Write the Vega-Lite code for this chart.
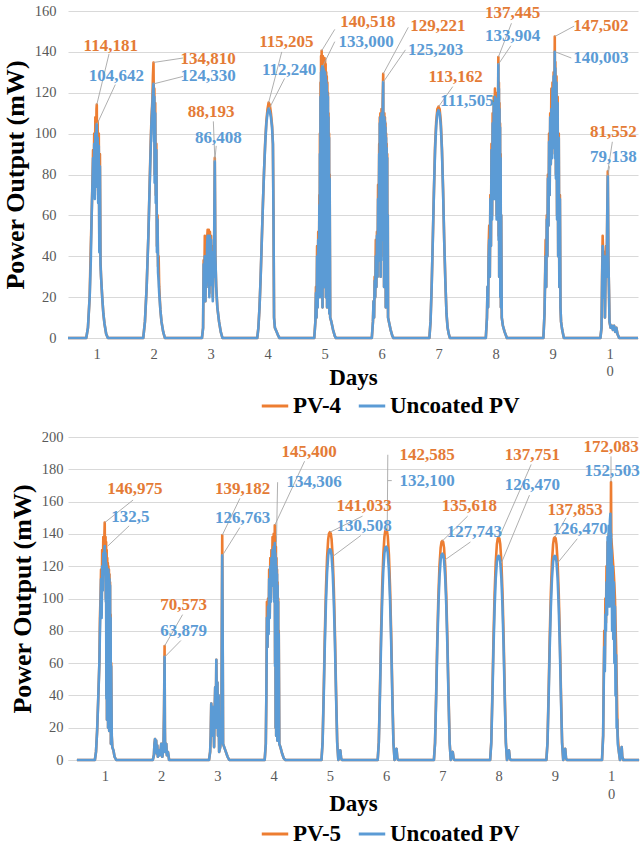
{
  "$schema": "https://vega.github.io/schema/vega-lite/v6.json",
  "padding": {"left": 2, "top": 3, "right": 4, "bottom": 4},
  "background": "white",
  "datasets": {
    "pv4": [
      {"day":0.5,"pv":0,"unc":0},
      {"day":0.82,"pv":0,"unc":0},{"day":0.85,"pv":5,"unc":5},{"day":0.88,"pv":20,"unc":20},{"day":0.90,"pv":45,"unc":38},
      {"day":0.915,"pv":60,"unc":60},{"day":0.93,"pv":78,"unc":76},{"day":0.94,"pv":92,"unc":88},{"day":0.95,"pv":75,"unc":70},
      {"day":0.96,"pv":100,"unc":95},{"day":0.97,"pv":72,"unc":68},{"day":0.98,"pv":108,"unc":100},{"day":0.99,"pv":80,"unc":74},
      {"day":1.00,"pv":112,"unc":102},{"day":1.005,"pv":114.181,"unc":104.642},{"day":1.01,"pv":85,"unc":78},{"day":1.02,"pv":106,"unc":98},
      {"day":1.03,"pv":70,"unc":66},{"day":1.04,"pv":100,"unc":94},{"day":1.05,"pv":45,"unc":42},{"day":1.06,"pv":90,"unc":84},
      {"day":1.07,"pv":38,"unc":36},{"day":1.08,"pv":30,"unc":30},{"day":1.10,"pv":20,"unc":20},{"day":1.12,"pv":12,"unc":12},
      {"day":1.14,"pv":7,"unc":7},{"day":1.17,"pv":2,"unc":2},{"day":1.20,"pv":0,"unc":0},

      {"day":1.82,"pv":0,"unc":0},{"day":1.85,"pv":8,"unc":8},{"day":1.88,"pv":25,"unc":25},{"day":1.91,"pv":50,"unc":50},
      {"day":1.93,"pv":72,"unc":72},{"day":1.95,"pv":95,"unc":92},{"day":1.965,"pv":108,"unc":106},{"day":1.98,"pv":116,"unc":114},
      {"day":1.99,"pv":128,"unc":120},{"day":2.00,"pv":134.81,"unc":124.33},{"day":2.01,"pv":100,"unc":96},{"day":2.015,"pv":122,"unc":118},
      {"day":2.02,"pv":80,"unc":76},{"day":2.03,"pv":115,"unc":110},{"day":2.04,"pv":70,"unc":66},{"day":2.05,"pv":95,"unc":92},
      {"day":2.06,"pv":45,"unc":42},{"day":2.07,"pv":60,"unc":58},{"day":2.08,"pv":35,"unc":32},{"day":2.09,"pv":40,"unc":28},
      {"day":2.10,"pv":25,"unc":22},{"day":2.12,"pv":14,"unc":14},{"day":2.14,"pv":8,"unc":8},{"day":2.17,"pv":3,"unc":3},{"day":2.20,"pv":0,"unc":0},

      {"day":2.85,"pv":0,"unc":0},{"day":2.87,"pv":5,"unc":5},{"day":2.88,"pv":38,"unc":36},{"day":2.89,"pv":22,"unc":22},
      {"day":2.90,"pv":50,"unc":40},{"day":2.91,"pv":18,"unc":18},{"day":2.92,"pv":35,"unc":33},{"day":2.93,"pv":25,"unc":25},
      {"day":2.94,"pv":48,"unc":45},{"day":2.95,"pv":53,"unc":50},{"day":2.96,"pv":30,"unc":28},{"day":2.97,"pv":53,"unc":50},
      {"day":2.98,"pv":22,"unc":20},{"day":2.99,"pv":52,"unc":50},{"day":3.00,"pv":35,"unc":33},{"day":3.01,"pv":50,"unc":48},
      {"day":3.02,"pv":28,"unc":26},{"day":3.03,"pv":45,"unc":42},{"day":3.04,"pv":20,"unc":18},{"day":3.05,"pv":40,"unc":38},
      {"day":3.06,"pv":30,"unc":30},{"day":3.075,"pv":88.193,"unc":86.408},{"day":3.085,"pv":40,"unc":40},{"day":3.10,"pv":25,"unc":25},
      {"day":3.12,"pv":15,"unc":15},{"day":3.15,"pv":8,"unc":8},{"day":3.18,"pv":3,"unc":3},{"day":3.21,"pv":0,"unc":0},

      {"day":3.82,"pv":0,"unc":0},{"day":3.84,"pv":5,"unc":5},{"day":3.86,"pv":15,"unc":15},{"day":3.88,"pv":30,"unc":30},
      {"day":3.90,"pv":48,"unc":48},{"day":3.92,"pv":66,"unc":66},{"day":3.94,"pv":82,"unc":82},{"day":3.96,"pv":96,"unc":95},
      {"day":3.98,"pv":106,"unc":105},{"day":4.00,"pv":112,"unc":110},{"day":4.02,"pv":115.205,"unc":112.24},{"day":4.04,"pv":114,"unc":111},
      {"day":4.06,"pv":110,"unc":108},{"day":4.08,"pv":104,"unc":103},{"day":4.095,"pv":95,"unc":95},{"day":4.105,"pv":60,"unc":60},
      {"day":4.115,"pv":10,"unc":10},{"day":4.13,"pv":5,"unc":5},{"day":4.16,"pv":3,"unc":3},{"day":4.19,"pv":1,"unc":1},{"day":4.21,"pv":0,"unc":0},

      {"day":4.82,"pv":0,"unc":0},{"day":4.84,"pv":8,"unc":8},{"day":4.85,"pv":25,"unc":22},{"day":4.86,"pv":10,"unc":10},
      {"day":4.87,"pv":45,"unc":40},{"day":4.88,"pv":15,"unc":15},{"day":4.89,"pv":52,"unc":48},{"day":4.90,"pv":20,"unc":20},
      {"day":4.91,"pv":70,"unc":65},{"day":4.915,"pv":25,"unc":25},{"day":4.92,"pv":100,"unc":90},{"day":4.925,"pv":30,"unc":30},
      {"day":4.93,"pv":125,"unc":118},{"day":4.935,"pv":40,"unc":38},{"day":4.94,"pv":138,"unc":130},{"day":4.945,"pv":20,"unc":20},
      {"day":4.95,"pv":140.518,"unc":132},{"day":4.955,"pv":60,"unc":58},{"day":4.96,"pv":137,"unc":133},{"day":4.965,"pv":15,"unc":15},
      {"day":4.97,"pv":138,"unc":133},{"day":4.975,"pv":50,"unc":48},{"day":4.98,"pv":137,"unc":132},{"day":4.985,"pv":30,"unc":28},
      {"day":4.99,"pv":136,"unc":131},{"day":4.995,"pv":70,"unc":65},{"day":5.00,"pv":137,"unc":130},{"day":5.005,"pv":25,"unc":25},
      {"day":5.01,"pv":136,"unc":130},{"day":5.015,"pv":45,"unc":42},{"day":5.02,"pv":134,"unc":128},{"day":5.025,"pv":20,"unc":20},
      {"day":5.03,"pv":130,"unc":126},{"day":5.035,"pv":60,"unc":58},{"day":5.04,"pv":128,"unc":124},{"day":5.045,"pv":15,"unc":15},
      {"day":5.05,"pv":125,"unc":120},{"day":5.055,"pv":40,"unc":38},{"day":5.06,"pv":120,"unc":118},{"day":5.065,"pv":20,"unc":20},
      {"day":5.07,"pv":110,"unc":108},{"day":5.075,"pv":30,"unc":30},{"day":5.08,"pv":100,"unc":98},{"day":5.085,"pv":12,"unc":12},
      {"day":5.09,"pv":80,"unc":78},{"day":5.10,"pv":10,"unc":10},{"day":5.12,"pv":8,"unc":8},{"day":5.15,"pv":4,"unc":4},
      {"day":5.18,"pv":1,"unc":1},{"day":5.20,"pv":0,"unc":0},

      {"day":5.83,"pv":0,"unc":0},{"day":5.85,"pv":8,"unc":8},{"day":5.86,"pv":18,"unc":18},{"day":5.87,"pv":10,"unc":10},
      {"day":5.88,"pv":30,"unc":28},{"day":5.89,"pv":20,"unc":20},{"day":5.90,"pv":48,"unc":40},{"day":5.91,"pv":25,"unc":25},
      {"day":5.92,"pv":52,"unc":50},{"day":5.93,"pv":30,"unc":30},{"day":5.94,"pv":75,"unc":68},{"day":5.95,"pv":55,"unc":55},
      {"day":5.96,"pv":95,"unc":90},{"day":5.965,"pv":40,"unc":38},{"day":5.97,"pv":108,"unc":105},{"day":5.975,"pv":60,"unc":58},
      {"day":5.98,"pv":110,"unc":108},{"day":5.985,"pv":30,"unc":30},{"day":5.99,"pv":110,"unc":108},{"day":5.995,"pv":50,"unc":48},
      {"day":6.00,"pv":112,"unc":110},{"day":6.01,"pv":70,"unc":68},{"day":6.02,"pv":115,"unc":110},{"day":6.03,"pv":129.221,"unc":125.203},
      {"day":6.035,"pv":40,"unc":38},{"day":6.04,"pv":110,"unc":108},{"day":6.045,"pv":25,"unc":25},{"day":6.05,"pv":110,"unc":108},
      {"day":6.055,"pv":60,"unc":58},{"day":6.06,"pv":108,"unc":106},{"day":6.065,"pv":30,"unc":30},{"day":6.07,"pv":105,"unc":103},
      {"day":6.075,"pv":15,"unc":15},{"day":6.08,"pv":100,"unc":98},{"day":6.085,"pv":40,"unc":40},{"day":6.09,"pv":95,"unc":93},
      {"day":6.095,"pv":20,"unc":20},{"day":6.10,"pv":90,"unc":88},{"day":6.105,"pv":15,"unc":15},{"day":6.11,"pv":60,"unc":60},
      {"day":6.115,"pv":10,"unc":10},{"day":6.13,"pv":8,"unc":8},{"day":6.16,"pv":4,"unc":4},{"day":6.19,"pv":1,"unc":1},{"day":6.21,"pv":0,"unc":0},

      {"day":6.84,"pv":0,"unc":0},{"day":6.86,"pv":8,"unc":8},{"day":6.88,"pv":25,"unc":25},{"day":6.90,"pv":48,"unc":48},
      {"day":6.92,"pv":72,"unc":72},{"day":6.94,"pv":94,"unc":92},{"day":6.96,"pv":106,"unc":104},{"day":6.98,"pv":112,"unc":110},
      {"day":7.00,"pv":113.162,"unc":111.505},{"day":7.02,"pv":112,"unc":110},{"day":7.04,"pv":106,"unc":104},{"day":7.06,"pv":93,"unc":92},
      {"day":7.08,"pv":73,"unc":72},{"day":7.10,"pv":48,"unc":48},{"day":7.12,"pv":28,"unc":28},{"day":7.14,"pv":12,"unc":12},
      {"day":7.16,"pv":5,"unc":5},{"day":7.18,"pv":2,"unc":2},{"day":7.20,"pv":0,"unc":0},

      {"day":7.83,"pv":0,"unc":0},{"day":7.85,"pv":10,"unc":10},{"day":7.86,"pv":25,"unc":25},{"day":7.87,"pv":15,"unc":15},
      {"day":7.88,"pv":45,"unc":40},{"day":7.89,"pv":55,"unc":48},{"day":7.90,"pv":30,"unc":30},{"day":7.91,"pv":70,"unc":68},
      {"day":7.92,"pv":45,"unc":45},{"day":7.93,"pv":95,"unc":92},{"day":7.94,"pv":60,"unc":58},{"day":7.95,"pv":110,"unc":105},
      {"day":7.96,"pv":80,"unc":78},{"day":7.97,"pv":118,"unc":115},{"day":7.98,"pv":70,"unc":68},{"day":7.99,"pv":122,"unc":118},
      {"day":8.00,"pv":85,"unc":82},{"day":8.01,"pv":120,"unc":117},{"day":8.02,"pv":60,"unc":58},{"day":8.03,"pv":118,"unc":116},
      {"day":8.04,"pv":90,"unc":88},{"day":8.05,"pv":137.445,"unc":133.904},{"day":8.055,"pv":50,"unc":48},{"day":8.06,"pv":125,"unc":122},
      {"day":8.065,"pv":30,"unc":30},{"day":8.07,"pv":115,"unc":112},{"day":8.075,"pv":45,"unc":45},{"day":8.08,"pv":105,"unc":103},
      {"day":8.085,"pv":20,"unc":20},{"day":8.09,"pv":90,"unc":88},{"day":8.095,"pv":15,"unc":15},{"day":8.10,"pv":60,"unc":60},
      {"day":8.11,"pv":10,"unc":10},{"day":8.13,"pv":6,"unc":6},{"day":8.16,"pv":3,"unc":3},{"day":8.20,"pv":0,"unc":0},

      {"day":8.84,"pv":0,"unc":0},{"day":8.86,"pv":12,"unc":12},{"day":8.87,"pv":30,"unc":28},{"day":8.88,"pv":48,"unc":40},
      {"day":8.89,"pv":25,"unc":25},{"day":8.90,"pv":60,"unc":58},{"day":8.91,"pv":40,"unc":40},{"day":8.92,"pv":80,"unc":78},
      {"day":8.93,"pv":55,"unc":55},{"day":8.94,"pv":100,"unc":96},{"day":8.95,"pv":70,"unc":70},{"day":8.96,"pv":110,"unc":108},
      {"day":8.97,"pv":85,"unc":85},{"day":8.98,"pv":122,"unc":112},{"day":8.99,"pv":90,"unc":88},{"day":9.00,"pv":125,"unc":122},
      {"day":9.01,"pv":95,"unc":93},{"day":9.02,"pv":130,"unc":128},{"day":9.03,"pv":100,"unc":98},{"day":9.04,"pv":147.502,"unc":140.003},
      {"day":9.045,"pv":90,"unc":88},{"day":9.05,"pv":135,"unc":132},{"day":9.06,"pv":80,"unc":78},{"day":9.07,"pv":128,"unc":125},
      {"day":9.08,"pv":60,"unc":58},{"day":9.09,"pv":118,"unc":115},{"day":9.10,"pv":40,"unc":40},{"day":9.11,"pv":100,"unc":98},
      {"day":9.12,"pv":25,"unc":25},{"day":9.13,"pv":70,"unc":68},{"day":9.14,"pv":15,"unc":15},{"day":9.15,"pv":8,"unc":8},
      {"day":9.17,"pv":4,"unc":4},{"day":9.20,"pv":0,"unc":0},

      {"day":9.84,"pv":0,"unc":0},{"day":9.86,"pv":5,"unc":5},{"day":9.87,"pv":30,"unc":28},{"day":9.88,"pv":50,"unc":45},
      {"day":9.89,"pv":40,"unc":40},{"day":9.90,"pv":20,"unc":20},{"day":9.91,"pv":42,"unc":40},{"day":9.92,"pv":10,"unc":10},
      {"day":9.93,"pv":30,"unc":28},{"day":9.94,"pv":45,"unc":38},{"day":9.95,"pv":30,"unc":30},{"day":9.96,"pv":60,"unc":58},
      {"day":9.97,"pv":81.552,"unc":79.138},{"day":9.98,"pv":40,"unc":40},{"day":9.99,"pv":25,"unc":25},{"day":10.00,"pv":8,"unc":8},
      {"day":10.02,"pv":5,"unc":5},{"day":10.04,"pv":6,"unc":6},{"day":10.06,"pv":4,"unc":4},{"day":10.08,"pv":6,"unc":6},
      {"day":10.10,"pv":3,"unc":3},{"day":10.12,"pv":5,"unc":5},{"day":10.14,"pv":2,"unc":2},{"day":10.17,"pv":0,"unc":0},
      {"day":10.5,"pv":0,"unc":0}
    ],
    "pv4Labels": [
      {"s":"o","txt":"114,181","lx":1.25,"ly":143,"sx":1.22,"sy":139,"ex":1.005,"ey":114.181},
      {"s":"b","txt":"104,642","lx":1.35,"ly":128,"sx":1.33,"sy":124,"ex":1.01,"ey":104.642},
      {"s":"o","txt":"134,810","lx":2.96,"ly":136.5,"sx":2.52,"sy":137,"ex":2.0,"ey":134.81},
      {"s":"b","txt":"124,330","lx":2.96,"ly":128,"sx":2.52,"sy":128,"ex":2.0,"ey":124.33},
      {"s":"o","txt":"88,193","lx":3.01,"ly":110.5,"sx":3.05,"sy":106,"ex":3.075,"ey":88.193},
      {"s":"b","txt":"86,408","lx":3.14,"ly":98,"sx":3.1,"sy":94,"ex":3.075,"ey":86.408},
      {"s":"o","txt":"115,205","lx":4.33,"ly":145,"sx":4.25,"sy":140,"ex":4.02,"ey":115.205},
      {"s":"b","txt":"112,240","lx":4.38,"ly":131,"sx":4.3,"sy":127,"ex":4.03,"ey":112.24},
      {"s":"o","txt":"140,518","lx":5.76,"ly":154.5,"sx":5.18,"sy":151,"ex":4.95,"ey":140.518},
      {"s":"b","txt":"133,000","lx":5.73,"ly":145,"sx":5.18,"sy":145,"ex":4.97,"ey":133},
      {"s":"o","txt":"129,221","lx":6.99,"ly":152.6,"sx":6.47,"sy":152,"ex":6.03,"ey":129.221},
      {"s":"b","txt":"125,203","lx":6.95,"ly":141,"sx":6.42,"sy":141,"ex":6.03,"ey":125.203},
      {"s":"o","txt":"113,162","lx":7.3,"ly":127.5,"sx":7.25,"sy":123,"ex":7.0,"ey":113.162},
      {"s":"b","txt":"111,505","lx":7.5,"ly":116},
      {"s":"o","txt":"137,445","lx":8.3,"ly":159,"sx":8.28,"sy":154,"ex":8.05,"ey":137.445},
      {"s":"b","txt":"133,904","lx":8.3,"ly":148,"sx":8.27,"sy":143,"ex":8.05,"ey":133.904},
      {"s":"o","txt":"147,502","lx":9.85,"ly":152.6,"sx":9.38,"sy":152.6,"ex":9.04,"ey":147.502},
      {"s":"b","txt":"140,003","lx":9.85,"ly":137,"sx":9.33,"sy":137,"ex":9.05,"ey":140.003},
      {"s":"o","txt":"81,552","lx":10.07,"ly":100.6,"sx":10.05,"sy":96,"ex":9.97,"ey":81.552},
      {"s":"b","txt":"79,138","lx":10.07,"ly":88.5,"sx":10.0,"sy":84,"ex":9.97,"ey":79.138}
    ],
    "pv5": [
      {"day":0.5,"pv":0,"unc":0},
      {"day":0.82,"pv":0,"unc":0},{"day":0.84,"pv":5,"unc":5},{"day":0.86,"pv":18,"unc":18},{"day":0.88,"pv":38,"unc":38},
      {"day":0.90,"pv":60,"unc":60},{"day":0.91,"pv":88,"unc":80},{"day":0.92,"pv":100,"unc":95},{"day":0.93,"pv":118,"unc":112},
      {"day":0.94,"pv":90,"unc":88},{"day":0.95,"pv":130,"unc":120},{"day":0.96,"pv":110,"unc":105},{"day":0.97,"pv":138,"unc":128},
      {"day":0.98,"pv":120,"unc":115},{"day":0.99,"pv":140,"unc":130},{"day":0.995,"pv":146.975,"unc":132.5},{"day":1.00,"pv":125,"unc":118},
      {"day":1.01,"pv":138,"unc":128},{"day":1.015,"pv":100,"unc":98},{"day":1.02,"pv":135,"unc":122},{"day":1.025,"pv":40,"unc":38},
      {"day":1.03,"pv":130,"unc":120},{"day":1.035,"pv":25,"unc":25},{"day":1.04,"pv":125,"unc":118},{"day":1.045,"pv":60,"unc":58},
      {"day":1.05,"pv":122,"unc":118},{"day":1.055,"pv":20,"unc":20},{"day":1.06,"pv":120,"unc":118},{"day":1.065,"pv":35,"unc":35},
      {"day":1.07,"pv":118,"unc":115},{"day":1.075,"pv":18,"unc":18},{"day":1.08,"pv":115,"unc":112},{"day":1.085,"pv":45,"unc":45},
      {"day":1.09,"pv":110,"unc":108},{"day":1.095,"pv":20,"unc":20},{"day":1.10,"pv":90,"unc":88},{"day":1.105,"pv":10,"unc":10},
      {"day":1.11,"pv":60,"unc":58},{"day":1.12,"pv":15,"unc":15},{"day":1.13,"pv":8,"unc":8},{"day":1.15,"pv":6,"unc":6},
      {"day":1.17,"pv":2,"unc":2},{"day":1.20,"pv":0,"unc":0},

      {"day":1.85,"pv":0,"unc":0},{"day":1.87,"pv":3,"unc":3},{"day":1.88,"pv":10,"unc":10},{"day":1.89,"pv":13,"unc":13},
      {"day":1.90,"pv":5,"unc":5},{"day":1.91,"pv":12,"unc":12},{"day":1.92,"pv":4,"unc":4},{"day":1.93,"pv":9,"unc":9},
      {"day":1.94,"pv":2,"unc":2},{"day":1.96,"pv":6,"unc":6},{"day":1.98,"pv":3,"unc":3},{"day":2.00,"pv":10,"unc":10},
      {"day":2.02,"pv":2,"unc":2},{"day":2.04,"pv":8,"unc":8},{"day":2.05,"pv":30,"unc":28},{"day":2.06,"pv":70.573,"unc":63.879},
      {"day":2.065,"pv":20,"unc":20},{"day":2.07,"pv":5,"unc":5},{"day":2.09,"pv":10,"unc":10},{"day":2.10,"pv":3,"unc":3},
      {"day":2.12,"pv":5,"unc":5},{"day":2.14,"pv":0,"unc":0},

      {"day":2.85,"pv":0,"unc":0},{"day":2.87,"pv":5,"unc":5},{"day":2.88,"pv":15,"unc":15},{"day":2.89,"pv":35,"unc":35},
      {"day":2.90,"pv":25,"unc":25},{"day":2.91,"pv":33,"unc":33},{"day":2.92,"pv":15,"unc":15},{"day":2.93,"pv":25,"unc":25},
      {"day":2.94,"pv":8,"unc":8},{"day":2.95,"pv":30,"unc":30},{"day":2.96,"pv":45,"unc":45},{"day":2.97,"pv":20,"unc":20},
      {"day":2.98,"pv":62,"unc":62},{"day":2.99,"pv":30,"unc":30},{"day":3.00,"pv":48,"unc":48},{"day":3.01,"pv":15,"unc":15},
      {"day":3.02,"pv":40,"unc":40},{"day":3.03,"pv":5,"unc":5},{"day":3.05,"pv":8,"unc":8},{"day":3.07,"pv":20,"unc":20},
      {"day":3.085,"pv":139.182,"unc":126.763},{"day":3.095,"pv":60,"unc":60},{"day":3.10,"pv":10,"unc":10},{"day":3.12,"pv":8,"unc":8},
      {"day":3.15,"pv":5,"unc":5},{"day":3.18,"pv":2,"unc":2},{"day":3.21,"pv":0,"unc":0},

      {"day":3.84,"pv":0,"unc":0},{"day":3.86,"pv":10,"unc":10},{"day":3.87,"pv":40,"unc":40},{"day":3.88,"pv":98,"unc":88},
      {"day":3.89,"pv":70,"unc":70},{"day":3.90,"pv":100,"unc":95},{"day":3.91,"pv":80,"unc":78},{"day":3.92,"pv":118,"unc":112},
      {"day":3.93,"pv":90,"unc":88},{"day":3.94,"pv":125,"unc":120},{"day":3.95,"pv":100,"unc":98},{"day":3.96,"pv":130,"unc":125},
      {"day":3.97,"pv":110,"unc":108},{"day":3.98,"pv":138,"unc":130},{"day":3.99,"pv":115,"unc":112},{"day":4.00,"pv":140,"unc":132},
      {"day":4.01,"pv":100,"unc":98},{"day":4.02,"pv":145.4,"unc":134.306},{"day":4.025,"pv":60,"unc":58},{"day":4.03,"pv":138,"unc":128},
      {"day":4.035,"pv":20,"unc":20},{"day":4.04,"pv":132,"unc":125},{"day":4.045,"pv":15,"unc":15},{"day":4.05,"pv":125,"unc":120},
      {"day":4.055,"pv":40,"unc":40},{"day":4.06,"pv":118,"unc":115},{"day":4.065,"pv":12,"unc":12},{"day":4.07,"pv":110,"unc":108},
      {"day":4.075,"pv":30,"unc":30},{"day":4.08,"pv":100,"unc":98},{"day":4.085,"pv":12,"unc":12},{"day":4.09,"pv":80,"unc":78},
      {"day":4.10,"pv":10,"unc":10},{"day":4.12,"pv":8,"unc":8},{"day":4.15,"pv":4,"unc":4},{"day":4.18,"pv":1,"unc":1},{"day":4.21,"pv":0,"unc":0},

      {"day":4.85,"pv":0,"unc":0},{"day":4.87,"pv":11.3,"unc":10.4},{"day":4.89,"pv":42.3,"unc":39.2},{"day":4.91,"pv":77.6,"unc":71.8},
      {"day":4.93,"pv":105.8,"unc":97.9},{"day":4.95,"pv":125.5,"unc":116.2},{"day":4.97,"pv":136.8,"unc":126.6},{"day":4.985,"pv":140.3,"unc":129.9},
      {"day":5.00,"pv":141.033,"unc":130.508},{"day":5.015,"pv":140.3,"unc":129.9},{"day":5.03,"pv":136.8,"unc":126.6},{"day":5.05,"pv":125.5,"unc":116.2},
      {"day":5.07,"pv":105.8,"unc":97.9},{"day":5.09,"pv":77.6,"unc":71.8},{"day":5.11,"pv":42.3,"unc":39.2},{"day":5.13,"pv":11.3,"unc":10.4},
      {"day":5.15,"pv":0,"unc":0},{"day":5.185,"pv":6,"unc":6},{"day":5.20,"pv":1,"unc":1},{"day":5.215,"pv":0,"unc":0},

      {"day":5.85,"pv":0,"unc":0},{"day":5.87,"pv":11.4,"unc":10.6},{"day":5.89,"pv":42.8,"unc":39.6},{"day":5.91,"pv":78.4,"unc":72.7},
      {"day":5.93,"pv":106.9,"unc":99.1},{"day":5.95,"pv":126.9,"unc":117.6},{"day":5.97,"pv":138.3,"unc":128.1},{"day":5.985,"pv":141.9,"unc":131.4},
      {"day":6.00,"pv":142.585,"unc":132.1},{"day":6.015,"pv":141.9,"unc":131.4},{"day":6.03,"pv":138.3,"unc":128.1},{"day":6.05,"pv":126.9,"unc":117.6},
      {"day":6.07,"pv":106.9,"unc":99.1},{"day":6.09,"pv":78.4,"unc":72.7},{"day":6.11,"pv":42.8,"unc":39.6},{"day":6.13,"pv":11.4,"unc":10.6},
      {"day":6.15,"pv":0,"unc":0},{"day":6.185,"pv":7,"unc":7},{"day":6.20,"pv":1,"unc":1},{"day":6.215,"pv":0,"unc":0},

      {"day":6.85,"pv":0,"unc":0},{"day":6.87,"pv":10.8,"unc":10.2},{"day":6.89,"pv":40.7,"unc":38.3},{"day":6.91,"pv":74.6,"unc":70.3},
      {"day":6.93,"pv":101.7,"unc":95.8},{"day":6.95,"pv":120.7,"unc":113.7},{"day":6.97,"pv":131.5,"unc":123.9},{"day":6.985,"pv":134.9,"unc":127.1},
      {"day":7.00,"pv":135.618,"unc":127.743},{"day":7.015,"pv":134.9,"unc":127.1},{"day":7.03,"pv":131.5,"unc":123.9},{"day":7.05,"pv":120.7,"unc":113.7},
      {"day":7.07,"pv":101.7,"unc":95.8},{"day":7.09,"pv":74.6,"unc":70.3},{"day":7.11,"pv":40.7,"unc":38.3},{"day":7.13,"pv":10.8,"unc":10.2},
      {"day":7.15,"pv":0,"unc":0},{"day":7.185,"pv":5,"unc":5},{"day":7.20,"pv":1,"unc":1},{"day":7.215,"pv":0,"unc":0},

      {"day":7.85,"pv":0,"unc":0},{"day":7.87,"pv":11.0,"unc":10.1},{"day":7.89,"pv":41.3,"unc":37.9},{"day":7.91,"pv":75.8,"unc":69.6},
      {"day":7.93,"pv":103.3,"unc":94.9},{"day":7.95,"pv":122.6,"unc":112.6},{"day":7.97,"pv":133.6,"unc":122.7},{"day":7.985,"pv":137.1,"unc":125.8},
      {"day":8.00,"pv":137.751,"unc":126.47},{"day":8.015,"pv":137.1,"unc":125.8},{"day":8.03,"pv":133.6,"unc":122.7},{"day":8.05,"pv":122.6,"unc":112.6},
      {"day":8.07,"pv":103.3,"unc":94.9},{"day":8.09,"pv":75.8,"unc":69.6},{"day":8.11,"pv":41.3,"unc":37.9},{"day":8.13,"pv":11.0,"unc":10.1},
      {"day":8.15,"pv":0,"unc":0},{"day":8.185,"pv":6,"unc":6},{"day":8.20,"pv":1,"unc":1},{"day":8.215,"pv":0,"unc":0},

      {"day":8.85,"pv":0,"unc":0},{"day":8.87,"pv":11.0,"unc":10.1},{"day":8.89,"pv":41.4,"unc":37.9},{"day":8.91,"pv":75.8,"unc":69.6},
      {"day":8.93,"pv":103.4,"unc":94.9},{"day":8.95,"pv":122.7,"unc":112.6},{"day":8.97,"pv":133.7,"unc":122.7},{"day":8.985,"pv":137.2,"unc":125.8},
      {"day":9.00,"pv":137.853,"unc":126.47},{"day":9.015,"pv":137.2,"unc":125.8},{"day":9.03,"pv":133.7,"unc":122.7},{"day":9.05,"pv":122.7,"unc":112.6},
      {"day":9.07,"pv":103.4,"unc":94.9},{"day":9.09,"pv":75.8,"unc":69.6},{"day":9.11,"pv":41.4,"unc":37.9},{"day":9.13,"pv":11.0,"unc":10.1},
      {"day":9.15,"pv":0,"unc":0},{"day":9.185,"pv":7,"unc":7},{"day":9.20,"pv":1,"unc":1},{"day":9.215,"pv":0,"unc":0},

      {"day":9.84,"pv":0,"unc":0},{"day":9.86,"pv":15,"unc":15},{"day":9.87,"pv":50,"unc":45},{"day":9.88,"pv":80,"unc":70},
      {"day":9.89,"pv":60,"unc":55},{"day":9.90,"pv":100,"unc":90},{"day":9.91,"pv":85,"unc":80},{"day":9.92,"pv":120,"unc":110},
      {"day":9.93,"pv":100,"unc":90},{"day":9.94,"pv":135,"unc":138},{"day":9.95,"pv":110,"unc":100},{"day":9.96,"pv":140,"unc":145},
      {"day":9.97,"pv":130,"unc":95},{"day":9.98,"pv":138,"unc":148},{"day":9.99,"pv":135,"unc":152.503},{"day":9.995,"pv":140,"unc":110},
      {"day":10.00,"pv":172.083,"unc":140},{"day":10.005,"pv":138,"unc":95},{"day":10.01,"pv":135,"unc":130},{"day":10.02,"pv":130,"unc":80},
      {"day":10.03,"pv":125,"unc":120},{"day":10.04,"pv":120,"unc":75},{"day":10.05,"pv":115,"unc":110},{"day":10.06,"pv":108,"unc":60},
      {"day":10.07,"pv":100,"unc":95},{"day":10.08,"pv":85,"unc":40},{"day":10.09,"pv":70,"unc":65},{"day":10.10,"pv":50,"unc":20},
      {"day":10.11,"pv":30,"unc":25},{"day":10.12,"pv":15,"unc":10},{"day":10.14,"pv":5,"unc":5},{"day":10.16,"pv":0,"unc":0},
      {"day":10.19,"pv":8,"unc":8},{"day":10.20,"pv":2,"unc":2},{"day":10.22,"pv":0,"unc":0},
      {"day":10.5,"pv":0,"unc":0}
    ],
    "pv5Labels": [
      {"s":"o","txt":"146,975","lx":1.53,"ly":168,"sx":1.5,"sy":161,"ex":0.995,"ey":146.975},
      {"s":"b","txt":"132,5","lx":1.45,"ly":150.5,"sx":1.43,"sy":145,"ex":1.05,"ey":132.5},
      {"s":"o","txt":"70,573","lx":2.4,"ly":96,"sx":2.38,"sy":90,"ex":2.06,"ey":70.573},
      {"s":"b","txt":"63,879","lx":2.4,"ly":80,"sx":2.35,"sy":74,"ex":2.065,"ey":63.879},
      {"s":"o","txt":"139,182","lx":3.45,"ly":168,"sx":3.4,"sy":162,"ex":3.085,"ey":139.182},
      {"s":"b","txt":"126,763","lx":3.45,"ly":150,"sx":3.4,"sy":144,"ex":3.09,"ey":126.763},
      {"s":"o","txt":"145,400","lx":4.63,"ly":190.7,"sx":4.55,"sy":185,"ex":4.02,"ey":145.4},
      {"s":"b","txt":"134,306","lx":4.72,"ly":172,"sx":4.07,"sy":172,"ex":4.05,"ey":135},
      {"s":"o","txt":"141,033","lx":5.61,"ly":157,"sx":5.58,"sy":151,"ex":5.0,"ey":141.033},
      {"s":"b","txt":"130,508","lx":5.61,"ly":145,"sx":5.55,"sy":139,"ex":5.05,"ey":126},
      {"s":"o","txt":"142,585","lx":6.73,"ly":189,"sx":6.03,"sy":189,"ex":6.02,"ey":142.585},
      {"s":"b","txt":"132,100","lx":6.73,"ly":173,"sx":6.1,"sy":173,"ex":6.03,"ey":173},
      {"s":"o","txt":"135,618","lx":7.48,"ly":157,"sx":7.45,"sy":151,"ex":7.0,"ey":135.618},
      {"s":"b","txt":"127,743","lx":7.57,"ly":141,"sx":7.5,"sy":135,"ex":7.05,"ey":124},
      {"s":"o","txt":"137,751","lx":8.6,"ly":189,"sx":8.58,"sy":183,"ex":8.01,"ey":137.751},
      {"s":"b","txt":"126,470","lx":8.6,"ly":170,"sx":8.55,"sy":164,"ex":8.05,"ey":122},
      {"s":"o","txt":"137,853","lx":9.36,"ly":155,"sx":9.2,"sy":150,"ex":9.0,"ey":137.853},
      {"s":"b","txt":"126,470","lx":9.45,"ly":143,"sx":9.4,"sy":137,"ex":9.05,"ey":122},
      {"s":"o","txt":"172,083","lx":10.0,"ly":194,"sx":10.0,"sy":188,"ex":10.0,"ey":172.083},
      {"s":"b","txt":"152,503","lx":10.02,"ly":179}
    ]
  },
  "vconcat": [
    {
      "width": 570,
      "height": 327,
      "encoding": {
        "x": {"type": "quantitative", "scale": {"domain": [0.5, 10.5], "nice": false, "zero": false},
          "axis": {"values": [1,2,3,4,5,6,7,8,9,10], "labelExpr": "datum.value == 10 ? ['1','0'] : '' + datum.value",
            "grid": false, "ticks": false, "domainColor": "#D9D9D9", "labelFlush": false, "labelOverlap": false,
            "labelPadding": 9, "labelLineHeight": 17, "title": "Days", "titleY": 39, "titleBaseline": "middle"}},
        "y": {"type": "quantitative", "scale": {"domain": [0, 160], "nice": false},
          "axis": {"values": [0,20,40,60,80,100,120,140,160], "labelOverlap": false, "title": "Power Output (mW)"}}
      },
      "layer": [
        {
          "data": {"name": "pv4"},
          "mark": {"type": "line", "strokeWidth": 2.6, "strokeJoin": "round"},
          "encoding": {
            "x": {"field": "day"},
            "y": {"field": "pv"},
            "color": {"datum": "PV-4", "type": "nominal",
              "scale": {"domain": ["PV-4", "Uncoated PV"], "range": ["#ED7D31", "#5B9BD5"]},
              "legend": {"orient": "none", "legendX": 192, "legendY": 380}}
          }
        },
        {
          "data": {"name": "pv4"},
          "mark": {"type": "line", "strokeWidth": 2.6, "strokeJoin": "round"},
          "encoding": {
            "x": {"field": "day"},
            "y": {"field": "unc"},
            "color": {"datum": "Uncoated PV", "type": "nominal"}
          }
        },
        {
          "data": {"name": "pv4Labels"},
          "transform": [{"filter": "isValid(datum.sx)"}],
          "mark": {"type": "rule", "color": "#A6A6A6", "strokeWidth": 0.9},
          "encoding": {
            "x": {"field": "sx"},
            "y": {"field": "sy"},
            "x2": {"field": "ex"},
            "y2": {"field": "ey"}
          }
        },
        {
          "data": {"name": "pv4Labels"},
          "mark": {"type": "text", "fontSize": 17, "fontWeight": "bold", "font": "Liberation Serif"},
          "encoding": {
            "x": {"field": "lx"},
            "y": {"field": "ly"},
            "text": {"field": "txt"},
            "color": {"condition": {"test": "datum.s === 'o'", "value": "#E47B36"}, "value": "#5B9BD5"}
          }
        }
      ]
    },
    {
      "width": 570,
      "height": 323,
      "encoding": {
        "x": {"type": "quantitative", "scale": {"domain": [0.342, 10.48], "nice": false, "zero": false},
          "axis": {"values": [1,2,3,4,5,6,7,8,9,10], "labelExpr": "datum.value == 10 ? ['1','0'] : '' + datum.value",
            "grid": false, "ticks": false, "domainColor": "#D9D9D9", "labelFlush": false, "labelOverlap": false,
            "labelPadding": 9, "labelLineHeight": 18, "title": "Days", "titleY": 43, "titleBaseline": "middle"}},
        "y": {"type": "quantitative", "scale": {"domain": [0, 200], "nice": false},
          "axis": {"values": [0,20,40,60,80,100,120,140,160,180,200], "labelOverlap": false, "title": "Power Output (mW)", "offset": -7}}
      },
      "layer": [
        {
          "data": {"name": "pv5"},
          "mark": {"type": "line", "strokeWidth": 2.6, "strokeJoin": "round"},
          "encoding": {
            "x": {"field": "day"},
            "y": {"field": "pv"},
            "color": {"datum": "PV-5", "type": "nominal",
              "scale": {"domain": ["PV-5", "Uncoated PV"], "range": ["#ED7D31", "#5B9BD5"]},
              "legend": {"orient": "none", "legendX": 192, "legendY": 382}}
          }
        },
        {
          "data": {"name": "pv5"},
          "mark": {"type": "line", "strokeWidth": 2.6, "strokeJoin": "round"},
          "encoding": {
            "x": {"field": "day"},
            "y": {"field": "unc"},
            "color": {"datum": "Uncoated PV", "type": "nominal"}
          }
        },
        {
          "data": {"name": "pv5Labels"},
          "transform": [{"filter": "isValid(datum.sx)"}],
          "mark": {"type": "rule", "color": "#A6A6A6", "strokeWidth": 0.9},
          "encoding": {
            "x": {"field": "sx"},
            "y": {"field": "sy"},
            "x2": {"field": "ex"},
            "y2": {"field": "ey"}
          }
        },
        {
          "data": {"name": "pv5Labels"},
          "mark": {"type": "text", "fontSize": 17, "fontWeight": "bold", "font": "Liberation Serif"},
          "encoding": {
            "x": {"field": "lx"},
            "y": {"field": "ly"},
            "text": {"field": "txt"},
            "color": {"condition": {"test": "datum.s === 'o'", "value": "#E47B36"}, "value": "#5B9BD5"}
          }
        }
      ]
    }
  ],
  "spacing": 11,
  "resolve": {"scale": {"color": "independent"}, "legend": {"color": "independent"}},
  "config": {
    "view": {"stroke": null},
    "font": "Liberation Serif",
    "axis": {
      "labelFont": "Liberation Serif", "labelFontSize": 14.5, "labelColor": "#595959",
      "titleFont": "Liberation Serif", "titleFontSize": 23, "titleFontWeight": "bold", "titleColor": "#000000"
    },
    "axisY": {
      "grid": true, "gridColor": "#D9D9D9", "gridWidth": 1, "domain": false, "ticks": false,
      "labelPadding": 12, "titlePadding": 6, "titleFontSize": 26
    },
    "legend": {
      "direction": "horizontal", "title": null, "symbolType": "stroke", "symbolSize": 700,
      "symbolStrokeWidth": 3, "labelFont": "Liberation Serif", "labelFontSize": 23, "labelFontWeight": "bold",
      "labelColor": "#000000", "columnPadding": 10, "labelOffset": 3, "titlePadding": 0
    }
  }
}
